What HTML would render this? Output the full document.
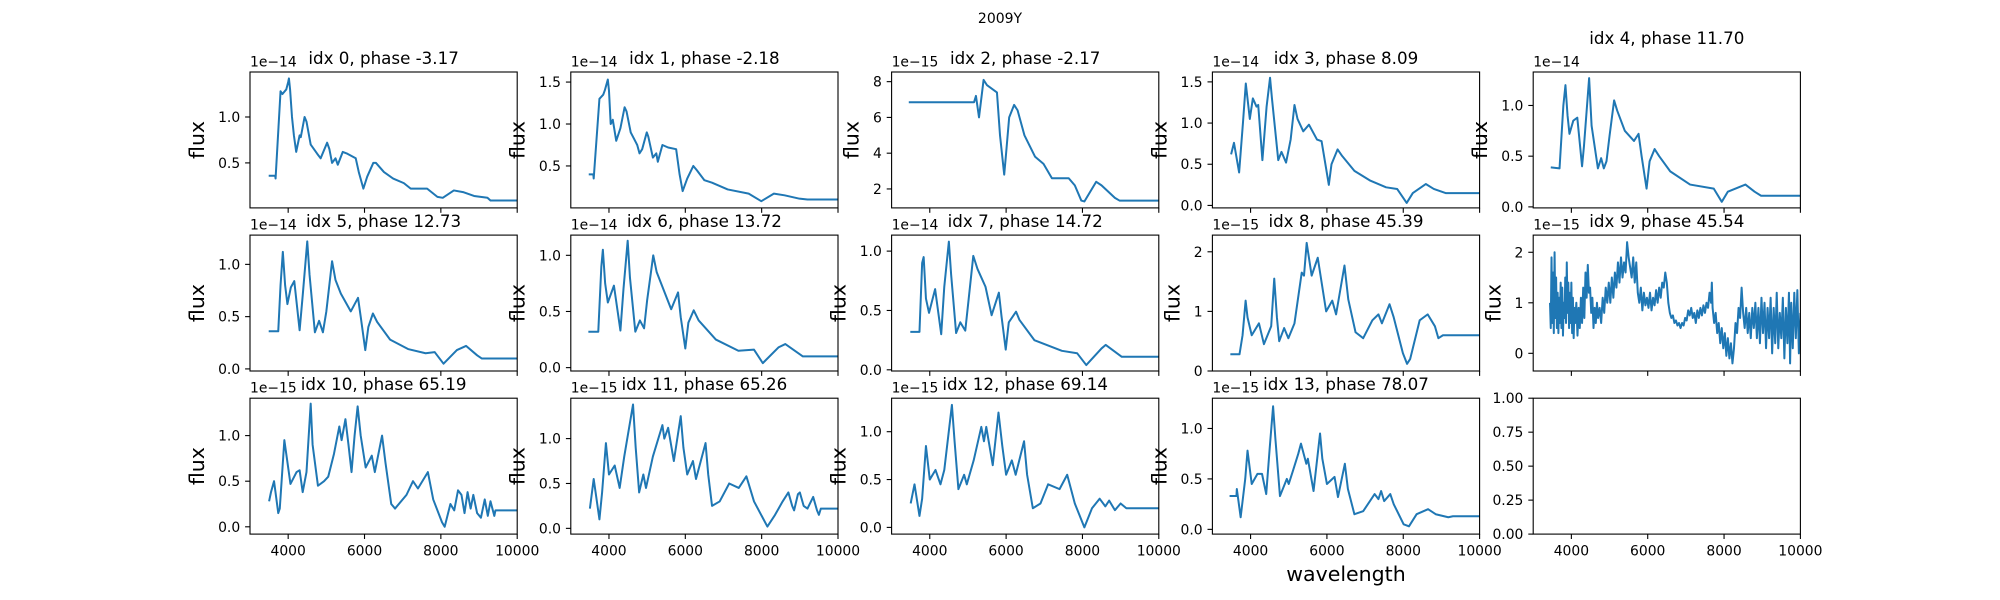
<!DOCTYPE html>
<html>
<head>
<meta charset="utf-8">
<style>
  html, body { margin: 0; padding: 0; background: #ffffff; }
  svg { display: block; font-family: "DejaVu Sans", "Liberation Sans", sans-serif; }
</style>
</head>
<body>
<svg id="fig" width="2000" height="600" viewBox="0 0 2000 600" xmlns="http://www.w3.org/2000/svg">
  <rect x="0" y="0" width="2000" height="600" fill="#ffffff"></rect>
  <text x="1000" y="23" font-size="14" text-anchor="middle" fill="#000">2009Y</text>
  <text x="1346" y="581" font-size="20.5" text-anchor="middle" fill="#000">wavelength</text>
</svg>
<script>
// ---- data (flux in units of the per-panel offset) ----
const titles = ["idx 0, phase -3.17","idx 1, phase -2.18","idx 2, phase -2.17","idx 3, phase 8.09","idx 4, phase 11.70",
  "idx 5, phase 12.73","idx 6, phase 13.72","idx 7, phase 14.72","idx 8, phase 45.39","idx 9, phase 45.54",
  "idx 10, phase 65.19","idx 11, phase 65.26","idx 12, phase 69.14","idx 13, phase 78.07"];
const offsetLabels = ["1e\u221214","1e\u221214","1e\u221215","1e\u221214","1e\u221214","1e\u221214","1e\u221214","1e\u221214",
  "1e\u221215","1e\u221215","1e\u221215","1e\u221215","1e\u221215","1e\u221215"];
const yMin = [0.01,0.0,0.94,-0.03,-0.01,-0.02,-0.03,-0.01,0.0,-0.35,-0.08,-0.064,-0.07,-0.047,0];
const yMax = [1.49,1.62,8.54,1.62,1.33,1.28,1.18,1.135,2.28,2.34,1.41,1.45,1.35,1.30,1];
const yTicks = [[0.5,1.0],[0.5,1.0,1.5],[2,4,6,8],[0,0.5,1,1.5],[0,0.5,1],
  [0,0.5,1],[0,0.5,1],[0,0.5,1],[0,1,2],[0,1,2],
  [0,0.5,1],[0,0.5,1],[0,0.5,1],[0,0.5,1],[0,0.25,0.5,0.75,1]];
const yTickLabels = [["0.5","1.0"],["0.5","1.0","1.5"],["2","4","6","8"],["0.0","0.5","1.0","1.5"],["0.0","0.5","1.0"],
  ["0.0","0.5","1.0"],["0.0","0.5","1.0"],["0.0","0.5","1.0"],["0","1","2"],["0","1","2"],
  ["0.0","0.5","1.0"],["0.0","0.5","1.0"],["0.0","0.5","1.0"],["0.0","0.5","1.0"],["0.00","0.25","0.50","0.75","1.00"]];
const xTicks = [4000,6000,8000,10000];
const xTickLabels = ["4000","6000","8000","10000"];

const wl0 = [3490,3660,3670,3800,3850,3950,4000,4020,4050,4100,4150,4210,4300,4330,4430,4480,4590,4760,4850,5020,5080,5150,5240,5300,5430,5550,5770,5850,5970,6070,6230,6300,6510,6750,7030,7210,7640,7910,8050,8340,8600,8870,9220,9300,10000];
const fx0 = [0.36,0.36,0.33,1.28,1.25,1.3,1.38,1.42,1.3,1.0,0.8,0.62,0.8,0.78,1.0,0.95,0.7,0.6,0.55,0.72,0.65,0.5,0.55,0.48,0.62,0.6,0.55,0.4,0.22,0.35,0.5,0.5,0.4,0.33,0.28,0.22,0.22,0.13,0.12,0.2,0.18,0.14,0.12,0.09,0.09];
const wl1 = [3470,3590,3600,3750,3850,3890,3970,4000,4045,4100,4190,4300,4410,4460,4570,4740,4800,4870,4990,5030,5150,5240,5280,5400,5550,5760,5850,5930,6050,6210,6300,6500,6700,7110,7660,7990,8320,8600,8990,9200,10000];
const fx1 = [0.4,0.4,0.35,1.3,1.35,1.4,1.53,1.4,1.0,1.05,0.8,0.95,1.2,1.15,0.9,0.75,0.65,0.7,0.9,0.85,0.6,0.65,0.55,0.75,0.72,0.7,0.4,0.2,0.35,0.5,0.45,0.33,0.3,0.22,0.17,0.08,0.17,0.15,0.11,0.1,0.1];
const wl2 = [3450,5160,5210,5290,5410,5500,5760,5840,5930,5950,6000,6080,6210,6300,6480,6760,6980,7200,7640,7800,7970,8050,8360,8500,8850,8970,10000];
const fx2 = [6.85,6.85,7.2,6.0,8.1,7.8,7.4,5.0,3.2,2.8,4.0,6.0,6.7,6.4,5.0,3.8,3.4,2.6,2.6,2.2,1.35,1.3,2.4,2.2,1.5,1.35,1.35];
const wl3 = [3490,3565,3700,3800,3875,3980,4060,4155,4200,4310,4420,4510,4560,4725,4810,4930,5050,5150,5230,5380,5530,5740,5860,6050,6120,6280,6400,6720,7140,7550,7840,8090,8250,8590,8800,9110,10000];
const fx3 = [0.62,0.76,0.4,1.0,1.48,1.05,1.3,1.2,1.22,0.55,1.2,1.55,1.3,0.55,0.65,0.52,0.8,1.22,1.05,0.9,0.98,0.8,0.78,0.25,0.5,0.68,0.6,0.42,0.3,0.22,0.2,0.03,0.15,0.26,0.2,0.15,0.15];
const wl4 = [3460,3690,3790,3845,3900,3950,4050,4155,4280,4330,4465,4530,4695,4780,4850,4920,5000,5120,5200,5400,5640,5760,5840,5970,6050,6180,6300,6590,7110,7730,7940,8100,8560,8800,8970,10000];
const fx4 = [0.39,0.38,1.0,1.2,0.9,0.72,0.85,0.88,0.4,0.6,1.27,0.8,0.38,0.48,0.38,0.45,0.7,1.05,0.95,0.75,0.65,0.72,0.5,0.18,0.45,0.57,0.5,0.35,0.22,0.18,0.05,0.15,0.22,0.15,0.11,0.11];
const wl5 = [3490,3740,3800,3860,3920,3980,4070,4160,4300,4380,4500,4560,4700,4810,4910,5000,5150,5240,5380,5640,5830,5900,6020,6100,6220,6330,6670,7140,7600,7840,8070,8420,8660,8950,9070,10000];
const fx5 = [0.36,0.36,0.8,1.12,0.8,0.62,0.78,0.84,0.37,0.7,1.22,0.9,0.35,0.46,0.35,0.55,1.03,0.85,0.72,0.55,0.68,0.5,0.18,0.4,0.53,0.45,0.28,0.19,0.15,0.16,0.05,0.18,0.22,0.13,0.1,0.1];
const wl6 = [3460,3720,3800,3840,3900,3970,4130,4300,4380,4490,4550,4690,4810,4920,5000,5160,5250,5400,5630,5810,5880,6000,6080,6220,6350,6800,7390,7800,8030,8440,8620,9080,10000];
const fx6 = [0.32,0.32,0.9,1.05,0.75,0.58,0.73,0.33,0.7,1.13,0.8,0.32,0.42,0.35,0.6,1.0,0.85,0.72,0.52,0.67,0.45,0.17,0.4,0.51,0.42,0.25,0.15,0.16,0.04,0.18,0.21,0.1,0.1];
const wl7 = [3490,3730,3800,3840,3900,3980,4140,4300,4380,4500,4560,4690,4800,4930,5020,5140,5250,5460,5620,5810,5880,5990,6070,6260,6350,6740,7460,7860,8100,8500,8610,9030,10000];
const fx7 = [0.32,0.32,0.9,0.95,0.6,0.48,0.68,0.3,0.7,1.08,0.8,0.31,0.4,0.33,0.6,0.96,0.85,0.7,0.46,0.65,0.45,0.17,0.4,0.49,0.42,0.25,0.16,0.14,0.04,0.18,0.21,0.11,0.11];
const wl8 = [3470,3710,3790,3870,3920,4030,4220,4350,4540,4620,4690,4750,4880,4990,5150,5340,5400,5470,5600,5760,5980,6140,6240,6460,6560,6750,6950,7190,7350,7440,7640,7750,7990,8100,8180,8430,8640,8830,8920,9040,10000];
const fx8 = [0.28,0.28,0.6,1.18,0.9,0.6,0.8,0.45,0.75,1.55,0.9,0.5,0.72,0.55,0.8,1.65,1.6,2.15,1.6,1.9,1.0,1.18,0.95,1.77,1.2,0.65,0.55,0.85,0.95,0.8,1.12,0.9,0.3,0.12,0.2,0.85,0.95,0.75,0.55,0.6,0.6];
const wl9 = [3440,3460,3480,3500,3520,3540,3560,3580,3600,3620,3640,3660,3680,3700,3720,3740,3760,3780,3800,3820,3840,3860,3880,3900,3920,3940,3960,3980,4000,4020,4040,4060,4080,4100,4130,4160,4190,4220,4250,4280,4310,4340,4370,4400,4430,4460,4490,4520,4550,4580,4610,4640,4670,4700,4740,4780,4820,4860,4900,4940,4980,5020,5060,5100,5140,5180,5220,5260,5300,5340,5380,5420,5460,5500,5540,5580,5620,5660,5700,5740,5780,5820,5860,5900,5940,5980,6020,6060,6100,6140,6180,6220,6260,6300,6340,6380,6420,6460,6500,6540,6580,6620,6660,6700,6740,6780,6820,6860,6900,6940,6980,7020,7060,7100,7140,7180,7220,7260,7300,7340,7380,7420,7460,7500,7540,7580,7620,7660,7680,7700,7740,7780,7820,7860,7900,7940,7980,8020,8060,8100,8140,8180,8220,8260,8300,8340,8380,8420,8460,8500,8540,8580,8620,8660,8700,8740,8780,8820,8860,8900,8940,8980,9020,9060,9100,9140,9180,9220,9260,9300,9340,9380,9420,9460,9500,9540,9580,9620,9660,9700,9730,9760,9800,9840,9880,9920,9960,10000];
const fx9 = [1.0,0.5,1.9,0.6,1.6,0.4,2.0,0.7,1.5,0.5,1.2,0.4,1.1,0.6,1.4,0.5,1.3,0.35,1.0,0.7,1.5,0.6,1.8,0.8,1.4,0.5,1.2,0.6,1.4,0.4,1.1,0.3,0.9,0.6,1.0,0.35,0.9,0.5,1.1,0.6,1.3,0.7,1.6,1.1,1.75,1.2,1.3,0.8,1.1,0.5,0.9,0.6,1.0,0.7,0.9,0.6,1.1,0.8,1.3,1.0,1.4,1.0,1.5,1.1,1.6,1.3,1.8,1.4,1.9,1.5,1.8,1.6,2.2,1.9,1.7,1.5,1.9,1.4,1.8,1.2,1.0,1.3,0.85,1.2,0.95,1.1,0.9,1.2,0.85,1.1,0.95,1.25,1.0,1.3,1.1,1.4,1.3,1.6,1.4,1.0,0.8,0.7,0.75,0.6,0.65,0.55,0.6,0.5,0.6,0.55,0.7,0.65,0.85,0.75,0.9,0.7,0.8,0.6,0.85,0.7,0.9,0.75,0.95,0.8,1.0,0.9,1.2,1.0,1.4,0.9,0.6,0.8,0.4,0.6,0.2,0.5,0.1,0.4,-0.05,0.3,-0.1,0.2,-0.2,0.1,0.6,0.4,0.9,0.7,1.3,0.8,0.5,0.9,0.4,0.8,0.3,0.9,0.5,1.0,0.3,0.9,0.2,1.1,0.4,1.0,0.1,0.9,0.3,1.1,0.0,0.9,0.2,1.2,0.1,0.8,0.3,1.1,-0.1,0.9,0.2,1.2,-0.2,1.0,0.1,1.2,0.3,1.25,0.0,0.8];
const wl10 = [3500,3550,3630,3740,3780,3900,3950,4060,4220,4300,4380,4480,4590,4640,4780,4940,5050,5200,5340,5400,5500,5580,5660,5740,5820,5900,6030,6190,6270,6460,6550,6700,6800,7100,7270,7400,7660,7800,8030,8100,8250,8350,8450,8540,8620,8700,8780,8850,8950,9050,9150,9230,9300,9400,9430,10000];
const fx10 = [0.28,0.38,0.5,0.15,0.2,0.95,0.8,0.47,0.6,0.62,0.38,0.6,1.35,0.9,0.45,0.5,0.55,0.8,1.1,0.95,1.18,0.9,0.6,1.0,1.32,1.0,0.65,0.78,0.6,1.0,0.7,0.25,0.2,0.35,0.5,0.42,0.6,0.3,0.05,0.0,0.25,0.18,0.4,0.35,0.15,0.38,0.2,0.35,0.15,0.1,0.3,0.12,0.28,0.12,0.18,0.18];
const wl11 = [3500,3600,3750,3820,3920,4000,4150,4280,4400,4630,4700,4790,4900,4970,5150,5400,5450,5550,5700,5880,5950,6050,6200,6280,6530,6600,6700,6900,7150,7400,7600,7800,8150,8350,8550,8700,8800,8850,8950,9000,9100,9200,9350,9450,9500,9550,10000];
const fx11 = [0.22,0.55,0.1,0.4,0.95,0.6,0.7,0.45,0.8,1.38,0.9,0.4,0.6,0.45,0.8,1.15,1.0,1.12,0.75,1.25,0.9,0.6,0.75,0.55,0.95,0.6,0.25,0.3,0.5,0.45,0.58,0.3,0.02,0.15,0.3,0.4,0.25,0.2,0.38,0.4,0.25,0.22,0.35,0.2,0.15,0.22,0.22];
const wl12 = [3500,3600,3730,3800,3900,4000,4150,4280,4380,4580,4650,4750,4900,4970,5150,5350,5420,5480,5650,5800,5900,6000,6150,6250,6470,6550,6700,6900,7100,7400,7600,7800,8050,8250,8450,8600,8700,8850,9000,9150,9300,10000];
const fx12 = [0.25,0.45,0.12,0.3,0.85,0.5,0.6,0.45,0.6,1.28,0.9,0.4,0.55,0.45,0.7,1.05,0.9,1.05,0.65,1.2,0.85,0.55,0.7,0.55,0.9,0.55,0.2,0.25,0.45,0.4,0.55,0.25,0.0,0.2,0.3,0.22,0.28,0.18,0.25,0.2,0.2,0.2];
const wl13 = [3450,3630,3640,3740,3860,3920,4030,4180,4300,4410,4500,4590,4650,4770,4950,5000,5110,5250,5320,5460,5500,5650,5820,5880,6000,6200,6290,6470,6550,6720,6950,7250,7350,7420,7500,7660,7750,8010,8150,8350,8650,8850,9180,9300,10000];
const fx13 = [0.33,0.33,0.4,0.12,0.5,0.78,0.45,0.55,0.55,0.35,0.8,1.22,0.9,0.33,0.5,0.45,0.58,0.75,0.85,0.65,0.7,0.38,0.95,0.7,0.45,0.52,0.32,0.65,0.4,0.15,0.18,0.35,0.3,0.38,0.28,0.35,0.25,0.05,0.03,0.15,0.2,0.15,0.12,0.13,0.13];

const wls = [wl0,wl1,wl2,wl3,wl4,wl5,wl6,wl7,wl8,wl9,wl10,wl11,wl12,wl13];
const fxs = [fx0,fx1,fx2,fx3,fx4,fx5,fx6,fx7,fx8,fx9,fx10,fx11,fx12,fx13];

// ---- layout ----
const NS = "http://www.w3.org/2000/svg";
const svg = document.getElementById('fig');
const AX_W = 267.2, AX_H = 135.9, X0 = 250, Y0 = 72, DX = 320.8, DY = 163.1;
const XMIN = 3000, XMAX = 10000;
function mk(tag, parent) { const e = document.createElementNS(NS, tag); parent.appendChild(e); return e; }
function charW(s) { let w = 0; for (const c of s) w += (c === '.') ? 0.318 : 0.636; return w * 13.9; }

for (let i = 0; i < 15; i++) {
  const col = i % 5, row = Math.floor(i / 5);
  const L = X0 + col * DX, T = Y0 + row * DY, R = L + AX_W, B = T + AX_H;
  const xs = v => L + (v - XMIN) / (XMAX - XMIN) * AX_W;
  const ys = v => B - (v - yMin[i]) / (yMax[i] - yMin[i]) * AX_H;

  const g = mk('g', svg);
  
  

  const cp = mk('clipPath', g);
  cp.setAttribute('id', 'clip' + i);
  const cr = mk('rect', cp);
  cr.setAttribute('x', L); cr.setAttribute('y', T); cr.setAttribute('width', AX_W); cr.setAttribute('height', AX_H);

  if (i < 14) {
    const wl = wls[i], fx = fxs[i];
    let d = '';
    for (let j = 0; j < wl.length; j++) d += (j ? 'L' : 'M') + xs(wl[j]).toFixed(2) + ',' + ys(fx[j]).toFixed(2);
    const p = mk('path', g);
    p.setAttribute('d', d);
    p.setAttribute('fill', 'none');
    p.setAttribute('stroke', '#1f77b4');
    p.setAttribute('stroke-width', '2');
    p.setAttribute('stroke-linejoin', 'round');
    p.setAttribute('clip-path', 'url(#clip' + i + ')');
    
    
  }

  const fr = mk('rect', g);
  fr.setAttribute('x', L); fr.setAttribute('y', T); fr.setAttribute('width', AX_W); fr.setAttribute('height', AX_H);
  fr.setAttribute('fill', 'none'); fr.setAttribute('stroke', '#000'); fr.setAttribute('stroke-width', '1.1');
  
  

  // x ticks
  for (let k = 0; k < xTicks.length; k++) {
    const x = xs(xTicks[k]);
    const tk = mk('line', g);
    tk.setAttribute('x1', x); tk.setAttribute('x2', x); tk.setAttribute('y1', B); tk.setAttribute('y2', B + 4.9);
    tk.setAttribute('stroke', '#000'); tk.setAttribute('stroke-width', '1.1');
    
    
    if (row === 2) {
      const tl = mk('text', g);
      tl.setAttribute('x', x); tl.setAttribute('y', B + 21.5);
      tl.setAttribute('font-size', '13.9'); tl.setAttribute('text-anchor', 'middle');
      tl.textContent = xTickLabels[k];
      
      
    }
  }
  // y ticks
  let maxW = 0;
  for (let k = 0; k < yTicks[i].length; k++) {
    const y = ys(yTicks[i][k]);
    const tk = mk('line', g);
    tk.setAttribute('x1', L - 4.9); tk.setAttribute('x2', L); tk.setAttribute('y1', y); tk.setAttribute('y2', y);
    tk.setAttribute('stroke', '#000'); tk.setAttribute('stroke-width', '1.1');
    
    
    const tl = mk('text', g);
    tl.setAttribute('x', L - 9.8); tl.setAttribute('y', y + 5);
    tl.setAttribute('font-size', '13.9'); tl.setAttribute('text-anchor', 'end');
    tl.textContent = yTickLabels[i][k];
    
    
    maxW = Math.max(maxW, charW(yTickLabels[i][k]));
  }

  if (i < 14) {
    const yl = mk('text', g);
    const lx = L - maxW - 31, ly = T + AX_H / 2;
    yl.setAttribute('x', lx); yl.setAttribute('y', ly);
    yl.setAttribute('font-size', '20.5'); yl.setAttribute('text-anchor', 'middle');
    yl.setAttribute('dominant-baseline', 'central');
    yl.setAttribute('transform', 'rotate(-90 ' + lx + ' ' + ly + ')');
    yl.textContent = 'flux';
    
    

    const ot = mk('text', g);
    ot.setAttribute('x', L); ot.setAttribute('y', T - 5.5);
    ot.setAttribute('font-size', '13.9');
    ot.textContent = offsetLabels[i];
    
    

    const tt = mk('text', g);
    tt.setAttribute('x', L + AX_W / 2); tt.setAttribute('y', i === 4 ? T - 28 : T - 8);
    tt.setAttribute('font-size', '16.7'); tt.setAttribute('text-anchor', 'middle');
    tt.textContent = titles[i];
    
    
  }
}
</script>
</body>
</html>
